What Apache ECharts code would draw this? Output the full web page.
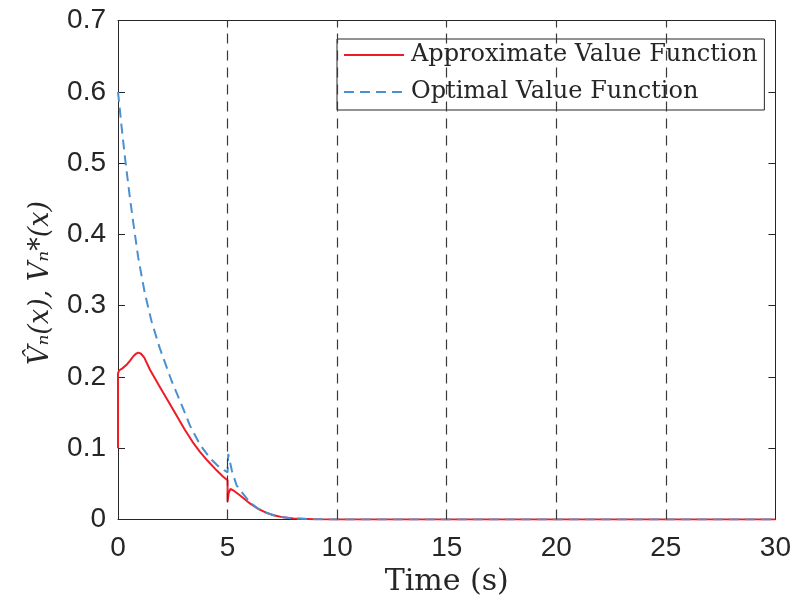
<!DOCTYPE html>
<html><head><meta charset="utf-8">
<script src="https://cdn.jsdelivr.net/npm/echarts@6/dist/echarts.min.js"></script>
<style>html,body{margin:0;padding:0;background:#fff}#c{width:794px;height:609px}</style>
</head><body><div id="c"></div>
<script>
const approxT = [0, 0, 0.05, 0.2, 0.39, 0.55, 0.7, 0.82, 0.93, 1.05, 1.2, 1.46, 1.91, 2.44, 3.05, 3.4, 3.74, 4.1, 4.5, 4.8, 5.0, 5.0, 5.05, 5.13, 5.3, 5.56, 6.02, 6.4, 6.78, 7.1, 7.54, 8, 9, 10, 15, 20, 25, 30];
const approxV = [0.1, 0.205, 0.209, 0.212, 0.217, 0.223, 0.229, 0.2325, 0.234, 0.2325, 0.227, 0.210, 0.186, 0.158, 0.126, 0.109, 0.095, 0.082, 0.069, 0.060, 0.055, 0.025, 0.037, 0.043, 0.040, 0.034, 0.0225, 0.015, 0.0093, 0.006, 0.003, 0.0015, 0.0004, 0, 0, 0, 0, 0];
const optT = [0, 0.16, 0.31, 0.54, 0.69, 0.92, 1.22, 1.53, 1.91, 2.44, 2.9, 3.28, 3.74, 4.2, 4.6, 5.0, 5.03, 5.2, 5.41, 5.63, 6.02, 6.4, 6.78, 7.1, 7.54, 8, 9, 10, 15, 20, 25, 30];
const optV = [0.6, 0.552, 0.51, 0.452, 0.418, 0.368, 0.318, 0.278, 0.240, 0.195, 0.161, 0.132, 0.105, 0.086, 0.074, 0.066, 0.092, 0.068, 0.048, 0.039, 0.024, 0.015, 0.0095, 0.006, 0.003, 0.0015, 0.0004, 0, 0, 0, 0, 0];
const dividerT = [5, 10, 15, 20, 25];
const seriesNames = ['Approximate Value Function', 'Optimal Value Function'];

const axisCol = '#262626';
const chart = echarts.init(document.getElementById('c'));
const pair = (t, v) => t.map((x, i) => [x, v[i]]);
const mkX = (pos, extra) => Object.assign({type: 'value', min: 0, max: 30, interval: 5, position: pos, splitLine: {show: false},
  axisLine: {show: true, onZero: false, lineStyle: {color: axisCol, width: 1}},
  axisTick: {show: true, inside: true, length: 7, lineStyle: {color: axisCol}}}, extra);
const mkY = (pos, extra) => Object.assign({type: 'value', min: 0, max: 0.7, interval: 0.1, position: pos, splitLine: {show: false},
  axisLine: {show: true, onZero: false, lineStyle: {color: axisCol, width: 1}},
  axisTick: {show: true, inside: true, length: 7, lineStyle: {color: axisCol}}}, extra);
chart.setOption({
  animation: false,
  grid: {left: 118, right: 18, top: 20.5, bottom: 89.5},
  legend: {
    orient: 'vertical', left: 337, top: 39,
    backgroundColor: '#fff', borderColor: '#262626', borderWidth: 1,
    padding: [3, 7, 5, 6], itemGap: 11, itemWidth: 60, itemHeight: 14,
    itemStyle: {opacity: 0},
    textStyle: {fontFamily: 'DejaVu Serif, serif', fontSize: 24, lineHeight: 26, color: '#262626', padding: [0, 0, 0, 2]},
    data: seriesNames
  },
  xAxis: [
    mkX('bottom', {name: 'Time (s)', nameLocation: 'middle', nameGap: 48,
      nameTextStyle: {fontFamily: 'DejaVu Serif, serif', fontSize: 30, color: axisCol},
      axisLabel: {fontFamily: 'Liberation Sans, Arial, sans-serif', fontSize: 28, color: axisCol, margin: 15}}),
    mkX('top', {axisLabel: {show: false}})
  ],
  yAxis: [
    mkY('left', {name: 'V\u0302\u2099(x), V\u2099*(x)', nameLocation: 'middle', nameGap: 64,
      nameTextStyle: {fontFamily: 'DejaVu Serif, serif', fontStyle: 'italic', fontSize: 27, color: axisCol, padding: [0, 26, 0, 0]},
      axisLabel: {fontFamily: 'Liberation Sans, Arial, sans-serif', fontSize: 28, color: axisCol, margin: 12,
        formatter: v => (Math.round(v * 10) / 10).toString()}}),
    mkY('right', {axisLabel: {show: false}})
  ],
  series: [
    {name: seriesNames[0], type: 'line', data: pair(approxT, approxV), showSymbol: false, symbol: 'none',
      lineStyle: {color: '#ee1c25', width: 2}, itemStyle: {color: '#ee1c25'}, z: 3,
      markLine: {silent: true, symbol: 'none', label: {show: false},
        lineStyle: {color: '#3a3a3a', type: [10, 7], width: 1.2},
        data: dividerT.map(t => ({xAxis: t}))}},
    {name: seriesNames[1], type: 'line', data: pair(optT, optV), showSymbol: false, symbol: 'none',
      lineStyle: {color: '#4a90d0', width: 2, type: [10, 6]}, itemStyle: {color: '#4a90d0'}, z: 4}
  ]
});
</script></body></html>
